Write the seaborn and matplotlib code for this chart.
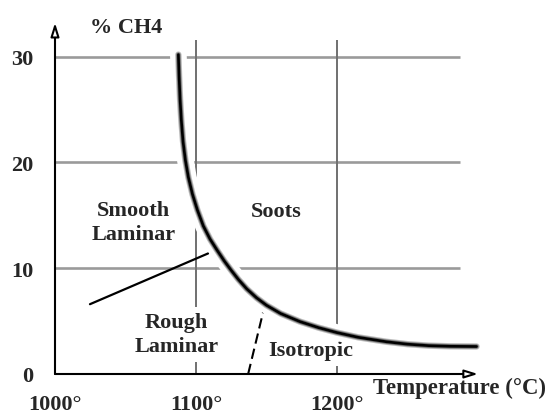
import matplotlib
matplotlib.use("Agg")
import matplotlib.pyplot as plt
import matplotlib.patheffects as pe
import seaborn as sns
import pandas as pd

# Deposition boundary: methane fraction vs. temperature
temp_c = [1087.5, 1088.0, 1088.7, 1089.6, 1090.8, 1092.5, 1094.6, 1097.5,
          1101.0, 1105.2, 1110.0, 1115.0, 1120.0, 1125.0, 1130.0, 1136.0,
          1143.0, 1150.0, 1160.0, 1173.8, 1187.0, 1199.8, 1215.0, 1235.0,
          1250.0, 1265.0, 1280.0, 1299.0]
ch4_pct = [30.2, 28.2, 26.0, 24.0, 22.0, 20.2, 18.6, 17.0,
           15.5, 14.0, 12.75, 11.7, 10.7, 9.8, 8.95, 8.05,
           7.2, 6.5, 5.72, 4.95, 4.38, 3.92, 3.47, 3.05,
           2.82, 2.68, 2.62, 2.6]

# Smooth / rough laminar boundary
smooth_rough_t = [1024.8, 1108.6]
smooth_rough_ch4 = [6.6, 11.4]

# Rough laminar / isotropic boundary
rough_iso_t = [1137.0, 1147.7]
rough_iso_ch4 = [0.0, 5.9]

x_ticks = [1000, 1100, 1200]
x_tick_labels = ["1000°", "1100°", "1200°"]
y_ticks = [0, 10, 20, 30]
y_tick_labels = ["0", "10", "20", "30"]
grid_h = [10, 20, 30]
grid_v = [1100, 1200]

region_labels = ["Smooth\nLaminar", "Soots", "Rough\nLaminar", "Isotropic"]
region_t = [1055.7, 1156.7, 1086.2, 1151.0]
region_ch4 = [14.4, 14.94, 3.75, 1.75]
region_ha = ["center", "center", "center", "left"]
region_va = ["center", "baseline", "center", "baseline"]

sns.set_theme(style="white")
plt.rcParams["font.family"] = ["Liberation Serif", "DejaVu Serif"]
plt.rcParams["font.weight"] = "bold"

fig = plt.figure(figsize=(5.48, 4.14), dpi=100)
ax = fig.add_axes([55 / 548, 39 / 414, 430 / 548, 354.3 / 414])
ax.set_xlim(1000, 1305)
ax.set_ylim(0, 33.5)
for s in ax.spines.values():
    s.set_visible(False)

# grid
ax.hlines(grid_h, 1000, 1287, colors="#9a9a9a", linewidth=1.9, zorder=1)
ax.vlines(grid_v, 0, 31.6, colors="#707070", linewidth=1.4, zorder=1)

# region boundaries
df_curve = pd.DataFrame({"t": temp_c, "ch4": ch4_pct})
sns.lineplot(data=df_curve, x="t", y="ch4", ax=ax, color="black",
             linewidth=1.9, sort=False, zorder=4,
             solid_joinstyle="round", solid_capstyle="round",
             path_effects=[pe.Stroke(linewidth=12, foreground="white"),
                           pe.Stroke(linewidth=4.6, foreground="#bdbdbd"),
                           pe.Stroke(linewidth=3.2, foreground="#707070"),
                           pe.Normal()])
df_sr = pd.DataFrame({"t": smooth_rough_t, "ch4": smooth_rough_ch4})
sns.lineplot(data=df_sr, x="t", y="ch4", ax=ax, color="black",
             linewidth=1.6, zorder=3)
df_ri = pd.DataFrame({"t": rough_iso_t, "ch4": rough_iso_ch4})
sns.lineplot(data=df_ri, x="t", y="ch4", ax=ax, color="black",
             linewidth=1.5, dashes=False, zorder=3)
ax.lines[-1].set_dashes((5, 2.5))

# axes with hollow arrow heads
arrow = dict(arrowstyle="-|>,head_length=0.8,head_width=0.25",
             fc="white", ec="black", lw=1.5, shrinkA=0, shrinkB=0,
             mutation_scale=10)
ax.annotate("", xy=(1000, 33.2), xytext=(1000, 0), arrowprops=arrow,
            annotation_clip=False, zorder=5)
ax.annotate("", xy=(1300, 0), xytext=(1000, 0), arrowprops=arrow,
            annotation_clip=False, zorder=5)

ax.set_xticks(x_ticks)
ax.set_xticklabels(x_tick_labels)
ax.set_yticks(y_ticks)
ax.set_yticklabels(y_tick_labels, va="center_baseline")
ax.tick_params(axis="x", length=0, pad=14.5, labelsize=16)
ax.tick_params(axis="y", length=0, pad=15.5, labelsize=16)
for lab in ax.get_xticklabels() + ax.get_yticklabels():
    lab.set_fontweight("bold")
ax.set_xlabel("")
ax.set_ylabel("")

ax.text(1024.8, 32.3, "% CH4", fontsize=16, fontweight="bold",
        ha="left", va="baseline", clip_on=False)
ax.text(1225.5, -1.84, "Temperature (°C)", fontsize=16.4, fontweight="bold",
        ha="left", va="baseline", clip_on=False)

for lab, t, c, ha, va in zip(region_labels, region_t, region_ch4,
                             region_ha, region_va):
    ax.text(t, c, lab, fontsize=16, fontweight="bold", ha=ha, va=va,
            multialignment="center", linespacing=1.25, zorder=2.5,
            bbox=dict(boxstyle="square,pad=0.25", fc="white", ec="none"))

fig.savefig("out.png", dpi=100)
